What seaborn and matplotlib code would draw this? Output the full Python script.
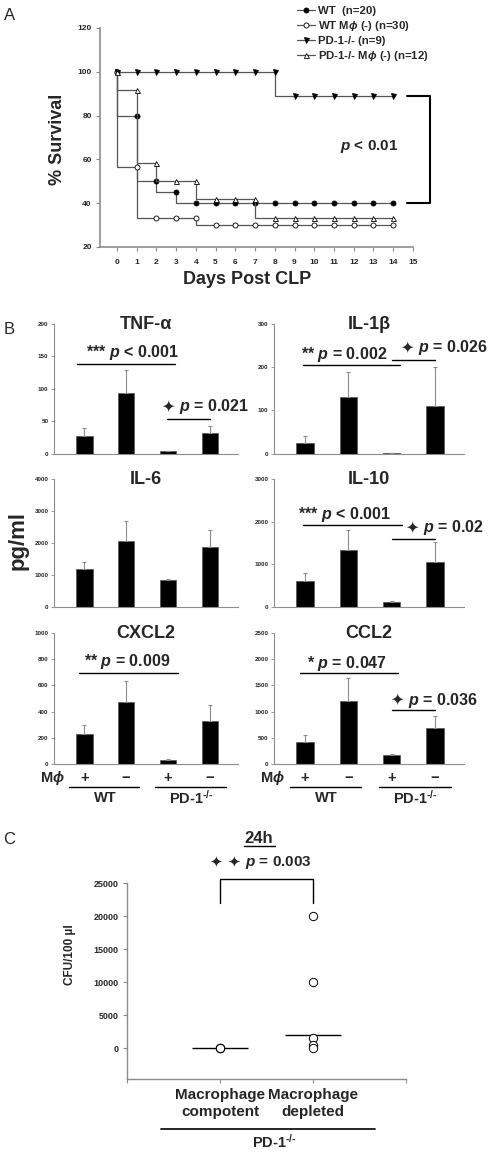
import numpy as np
import pandas as pd
import matplotlib.pyplot as plt
import seaborn as sns
from matplotlib.transforms import blended_transform_factory, offset_copy

# ---- Panel A: survival after CLP (%)
days = [0, 1, 2, 3, 4, 5, 6, 7, 8, 9, 10, 11, 12, 13, 14]
surv_wt = [100, 80, 50, 45, 40, 40, 40, 40, 40, 40, 40, 40, 40, 40, 40]
surv_wt_mdep = [100, 56.7, 33.3, 33.3, 33.3, 30, 30, 30, 30, 30, 30, 30, 30, 30, 30]
surv_pd1 = [100, 100, 100, 100, 100, 100, 100, 100, 100, 88.9, 88.9, 88.9, 88.9, 88.9, 88.9]
surv_pd1_mdep = [100, 91.7, 58.3, 50, 50, 41.7, 41.7, 41.7, 33.3, 33.3, 33.3, 33.3, 33.3, 33.3, 33.3]
surv_labels = ["WT  (n=20)", "WT M$\\phi$ (-) (n=30)", "PD-1-/- (n=9)", "PD-1-/- M$\\phi$ (-) (n=12)"]

# ---- Panel B: cytokines (pg/ml), mean and SEM
bar_groups = ["WT Mφ+", "WT Mφ−", "PD-1 Mφ+", "PD-1 Mφ−"]
bar_ticklabels = ["+", "−", "+", "−"]
tnf_mean = [27, 93, 3.5, 32]
tnf_sem = [12, 36, 1, 11]
il1b_mean = [25, 130, 1, 109]
il1b_sem = [15, 60, 0.5, 92]
il6_mean = [1180, 2070, 830, 1880]
il6_sem = [230, 610, 55, 520]
il10_mean = [600, 1330, 110, 1060]
il10_sem = [205, 470, 20, 460]
cxcl2_mean = [230, 475, 28, 330]
cxcl2_sem = [67, 158, 8, 120]
ccl2_mean = [415, 1210, 170, 690]
ccl2_sem = [140, 440, 12, 235]

# ---- Panel C: peritoneal CFU at 24h
cfu_groups = ["Macrophage\ncompotent", "Macrophage\ndepleted"]
cfu_competent = [0, 0, 0]
cfu_depleted = [20000, 10000, 1600, 500, 0]
cfu_center = [0, 2000]

PD1 = "PD-1$^{\\text{-/-}}$"

sns.set_style("ticks")
plt.rcParams['font.family'] = ['Liberation Sans', 'DejaVu Sans']
plt.rcParams['font.weight'] = 'bold'
plt.rcParams['axes.labelweight'] = 'bold'
plt.rcParams['mathtext.fontset'] = 'custom'
plt.rcParams['mathtext.rm'] = 'Liberation Sans:bold'
plt.rcParams['mathtext.it'] = 'Liberation Sans:italic:bold'
plt.rcParams['mathtext.bf'] = 'Liberation Sans:bold'
plt.rcParams['mathtext.fallback'] = 'stixsans'

GRAY = '#8c8c8c'
STAR = '\u2726'
fig = plt.figure(figsize=(4.88, 11.52), dpi=100)


def star_note(ax, x, y, nstar, rest, size):
    # text after the star(s) starts at x; the star glyph comes from DejaVu Sans
    ax.text(x, y, rest, fontsize=size, ha='left', va='center')
    tr = offset_copy(ax.transData, fig=fig, x=-3, y=0, units='points')
    ax.text(x, y, ' '.join([STAR] * nstar), transform=tr, fontsize=size,
            family='DejaVu Sans', ha='right', va='center')


# ================= A =================
axa = fig.add_axes([0.2049, 0.7856, 0.6414, 0.1901])
series = [surv_wt, surv_wt_mdep, surv_pd1, surv_pd1_mdep]
markers = ['o', 'o', 'v', '^']
faces = ['black', 'white', 'black', 'white']
handles = []
for vals, mk, fc in zip(series, markers, faces):
    sns.lineplot(x=days, y=vals, ax=axa, drawstyle='steps-pre', color='#555555', lw=0.9,
                 marker=mk, markersize=3.6, markerfacecolor=fc, markeredgecolor='black',
                 markeredgewidth=0.6, legend=False)
    handles.append(axa.lines[-1])
axa.set_xlim(-0.85, 15)
axa.set_ylim(20, 120)
axa.set_xticks(range(16))
axa.set_yticks(range(20, 121, 20))
sns.despine(ax=axa)
for s in ['left', 'bottom']:
    axa.spines[s].set_color(GRAY)
    axa.spines[s].set_linewidth(1.2)
axa.tick_params(labelsize=6, length=3, width=0.8, color=GRAY)
axa.tick_params(axis='x', pad=6)
axa.tick_params(axis='y', pad=3)
axa.set_xlabel("Days Post CLP", fontsize=13, va='center')
axa.xaxis.set_label_coords(0.47, -0.15)
axa.set_ylabel("% Survival", fontsize=13, va='center')
axa.yaxis.set_label_coords(-0.137, 0.49)
axa.plot([14.7, 15.85, 15.85, 14.7], [88.9, 88.9, 40, 40], color='black', lw=1.5, clip_on=False)
axa.text(12.8, 66, "$p$ < 0.01", fontsize=11, ha='center', va='center')
fig.legend(handles, surv_labels, loc='upper left', bbox_to_anchor=(297 / 488, 1 - 6 / 1152),
           frameon=False, fontsize=8.2, handlelength=1.6, handletextpad=0.25,
           labelspacing=0.26, borderpad=0, borderaxespad=0)

# ================= B =================
col_l = [(0.1107, 0.377), (0.5615, 0.389)]
rows = [(0.6063, 0.1124), (0.4731, 0.1111), (0.3368, 0.1137)]

# (line x0, line x1, line y, label, label x, label y, stars)
panels = [
    (tnf_mean, tnf_sem, "TNF-α", 200, 50,
     [(-0.17, 2.17, 138, "*** $p$ < 0.001", 1.14, 156, 0),
      (1.98, 3.0, 52.6, "$p$ = 0.021", 2.26, 72, 1)]),
    (il1b_mean, il1b_sem, "IL-1β", 300, 100,
     [(-0.05, 2.2, 204.5, "** $p$ = 0.002", 0.9, 230, 0),
      (2.0, 3.0, 217.5, "$p$ = 0.026", 2.61, 245, 1)]),
    (il6_mean, il6_sem, "IL-6", 4000, 1000, []),
    (il10_mean, il10_sem, "IL-10", 3000, 1000,
     [(-0.05, 2.24, 1915, "*** $p$ < 0.001", 0.9, 2160, 0),
      (2.0, 3.0, 1600, "$p$ = 0.02", 2.72, 1854, 1)]),
    (cxcl2_mean, cxcl2_sem, "CXCL2", 1000, 200,
     [(-0.12, 2.24, 697, "** $p$ = 0.009", 1.02, 782, 0)]),
    (ccl2_mean, ccl2_sem, "CCL2", 2500, 500,
     [(-0.12, 2.14, 1729, "* $p$ = 0.047", 0.97, 1909, 0),
      (2.0, 3.0, 1032, "$p$ = 0.036", 2.38, 1213, 1)]),
]

for i, (means, sems, title, ymax, step, notes) in enumerate(panels):
    r, c = divmod(i, 2)
    ax = fig.add_axes([col_l[c][0], rows[r][0], col_l[c][1], rows[r][1]])
    sns.barplot(x=bar_groups, y=means, order=bar_groups, color='black', saturation=1,
                width=0.4, edgecolor='#555555', linewidth=0.5, errorbar=None, ax=ax)
    ax.errorbar(range(4), means, yerr=[np.zeros(4), sems], fmt='none', ecolor=GRAY,
                elinewidth=0.8, capsize=1.5, capthick=0.8)
    ax.set_xlim(-0.72, 3.67)
    ax.set_ylim(0, ymax)
    ax.set_yticks(np.arange(0, ymax + 1, step))
    sns.despine(ax=ax)
    for s in ['left', 'bottom']:
        ax.spines[s].set_color(GRAY)
        ax.spines[s].set_linewidth(0.8)
    ax.tick_params(axis='y', labelsize=4.5, length=2, width=0.6, color=GRAY, pad=2)
    ax.tick_params(axis='x', length=0)
    ax.text(0.5, 1.0, title, transform=ax.transAxes, fontsize=13, ha='center', va='center')
    for x0, x1, yl, txt, tx, ty, nst in notes:
        ax.plot([x0, x1], [yl, yl], color='black', lw=1, clip_on=False)
        if nst:
            star_note(ax, tx, ty, nst, txt, 11.5)
        else:
            ax.text(tx, ty, txt, fontsize=11.5, ha='center', va='center')
    if r == 2:
        ax.set_xticks(range(4))
        ax.set_xticklabels(bar_ticklabels, fontsize=10.5)
        ax.tick_params(axis='x', pad=5)
        tr = blended_transform_factory(ax.transData, ax.transAxes)
        ax.text(-0.75, -0.107, "M$\\phi$", transform=tr, fontsize=10.5, ha='center', va='center')
        ax.plot([-0.36, 1.3], [-0.176, -0.176], transform=tr, color='black', lw=1, clip_on=False)
        ax.plot([1.7, 3.38], [-0.176, -0.176], transform=tr, color='black', lw=1, clip_on=False)
        ax.text(0.5, -0.26, "WT", transform=tr, fontsize=10.5, ha='center', va='center')
        ax.text(2.55, -0.26, PD1, transform=tr, fontsize=10.5, ha='center', va='center')
    else:
        ax.set_xticklabels([])

fig.text(18 / 488, 1 - 540 / 1152, "pg/ml", rotation=90, fontsize=16, ha='center', va='center')

# ================= C =================
axc = fig.add_axes([0.2602, 0.0636, 0.5717, 0.1699])
cfu_df = pd.DataFrame({
    'group': [cfu_groups[0]] * len(cfu_competent) + [cfu_groups[1]] * len(cfu_depleted),
    'cfu': cfu_competent + cfu_depleted,
})
axc.hlines(cfu_center, [k - 0.3 for k in range(2)], [k + 0.3 for k in range(2)],
           color='black', lw=1)
sns.stripplot(data=cfu_df, x='group', y='cfu', order=cfu_groups, jitter=False, color='white',
              edgecolor='black', linewidth=0.7, size=6, ax=axc)
axc.set_xlim(-1, 2)
axc.set_ylim(-4600, 25000)
axc.set_yticks(range(0, 25001, 5000))
axc.set_xticks([-1, 0, 1, 2])
axc.set_xticklabels(['', cfu_groups[0], cfu_groups[1], ''], fontsize=11)
sns.despine(ax=axc)
for s in ['left', 'bottom']:
    axc.spines[s].set_color(GRAY)
    axc.spines[s].set_linewidth(1)
axc.tick_params(axis='y', labelsize=6.5, length=3, width=0.8, color=GRAY, pad=3)
axc.tick_params(axis='x', length=3, width=0.8, color=GRAY, pad=4)
axc.set_xlabel('')
axc.set_ylabel("CFU/100 µl", fontsize=8.5, va='center')
axc.yaxis.set_label_coords(-0.204, 0.632)
axc.plot([0, 0, 1, 1], [22000, 25600, 25600, 22000], color='black', lw=1, clip_on=False)
axc.text(0.42, 31750, "24h", fontsize=12, ha='center', va='center')
axc.plot([0.26, 0.59], [30590, 30590], color='black', lw=1, clip_on=False)
star_note(axc, 0.27, 28130, 2, "$p$ = 0.003", 11)
axc.plot([-0.63, 1.67], [-12190, -12190], color='black', lw=1.2, clip_on=False)
axc.text(0.59, -14160, PD1, fontsize=10.5, ha='center', va='center')

# panel letters
fig.text(10 / 488, 1 - 15 / 1152, "A", fontsize=12, fontweight='normal', ha='center', va='center')
fig.text(9 / 488, 1 - 330 / 1152, "B", fontsize=12, fontweight='normal', ha='center', va='center')
fig.text(9 / 488, 1 - 840 / 1152, "C", fontsize=12, fontweight='normal', ha='center', va='center')

fig.savefig("out.png", dpi=100)
